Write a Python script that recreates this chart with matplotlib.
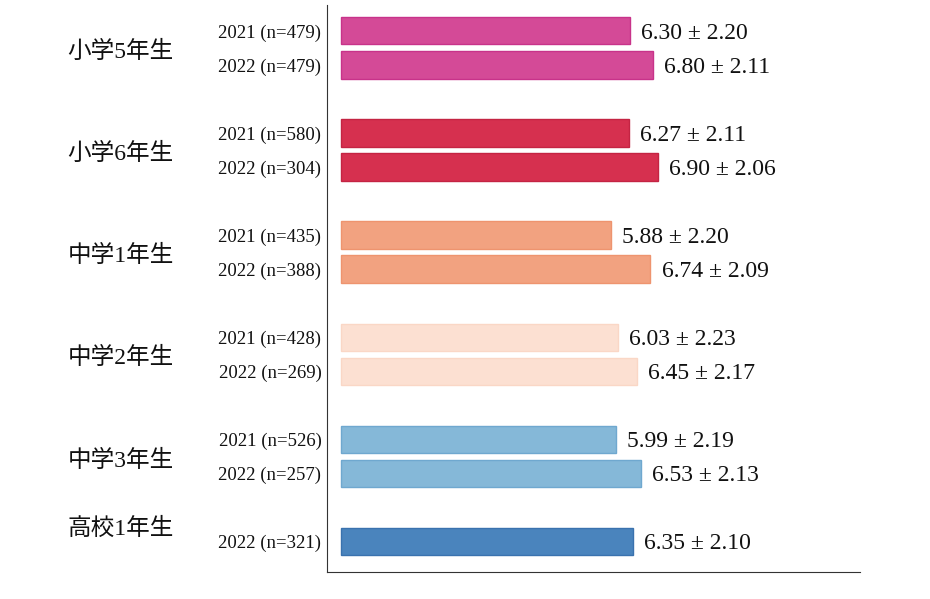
import numpy as np
import matplotlib
matplotlib.use('Agg')
import matplotlib.pyplot as plt

# データ
grades = ['小学5年生', '小学6年生', '中学1年生', '中学2年生', '中学3年生', '高校1年生']
years = ['2021', '2022', '2021', '2022', '2021', '2022', '2021', '2022', '2021', '2022', '2022']
n_counts = [479, 479, 580, 304, 435, 388, 428, 269, 526, 257, 321]
means = [6.30, 6.80, 6.27, 6.90, 5.88, 6.74, 6.03, 6.45, 5.99, 6.53, 6.35]
sds = [2.20, 2.11, 2.11, 2.06, 2.20, 2.09, 2.23, 2.17, 2.19, 2.13, 2.10]
grade_index = [0, 0, 1, 1, 2, 2, 3, 3, 4, 4, 5]
colors = ['#D44A97', '#D6304F', '#F2A280', '#FCE0D2', '#85B8D8', '#4A84BD']
edges = ['#C8338A', '#C42443', '#EE946F', '#FAD7C6', '#6FA8CF', '#3A72AE']

# 各学年の基準位置 (高校1年生は2022のみ)
group_base = [0, 3, 6, 9, 12, 14]
pos = np.array([group_base[g] + (0 if y == '2021' else 1)
                for g, y in zip(grade_index, years)])

fig = plt.figure(figsize=(9.3, 5.99), dpi=100)
ax = fig.add_axes([327 / 930, 1 - 572 / 599, (860 - 327) / 930, (572 - 5) / 599])

for p, m, g in zip(pos, means, grade_index):
    ax.barh(p, m, height=0.8, color=colors[g], edgecolor=edges[g], linewidth=1)

for p, m, s in zip(pos, means, sds):
    ax.text(m + 0.24, p, f'{m:.2f} ± {s:.2f}', va='center_baseline', ha='left',
            fontsize=17, family='Liberation Serif', color='#111111')

for p, y, n in zip(pos, years, n_counts):
    ax.text(-0.42, p, f'{y} (n={n})', va='center_baseline', ha='right',
            fontsize=13.5, family='Liberation Serif', color='#111111')

for g, name in enumerate(grades):
    ax.text(-5.95, group_base[g] + 0.55, name, va='center_baseline', ha='left',
            fontsize=17, family=['Liberation Serif', 'Noto Sans CJK JP'], color='#111111')

ax.set_xlim(-0.3, 11.3)
ax.set_ylim(15.9, -0.76)
ax.set_xticks([])
ax.set_yticks([])
ax.spines['top'].set_visible(False)
ax.spines['right'].set_visible(False)
ax.spines['left'].set_color('#333333')
ax.spines['bottom'].set_color('#333333')

plt.savefig('out.png', dpi=100)
